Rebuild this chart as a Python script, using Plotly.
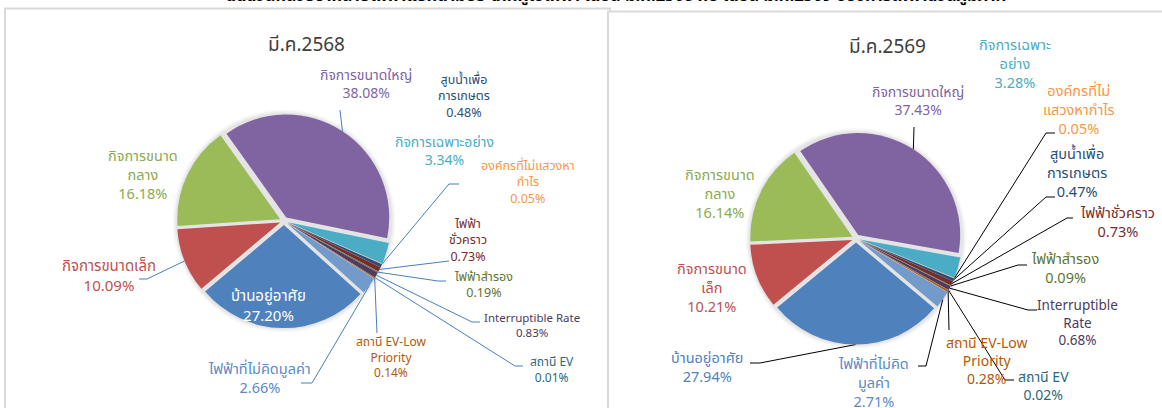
import numpy as np
import plotly.graph_objects as go

W, H = 1162, 408

# ---------------- data ----------------
categories = ["บ้านอยู่อาศัย", "กิจการขนาดเล็ก", "กิจการขนาดกลาง", "กิจการขนาดใหญ่",
              "กิจการเฉพาะอย่าง", "องค์กรที่ไม่แสวงหากำไร", "สูบน้ำเพื่อการเกษตร",
              "ไฟฟ้าชั่วคราว", "ไฟฟ้าสำรอง", "Interruptible Rate", "สถานี EV",
              "สถานี EV-Low Priority", "ไฟฟ้าที่ไม่คิดมูลค่า"]
values_2568 = [27.20, 10.09, 16.18, 38.08, 3.34, 0.05, 0.48, 0.73, 0.19, 0.83, 0.01, 0.14, 2.66]
values_2569 = [27.94, 10.21, 16.14, 37.43, 3.28, 0.05, 0.47, 0.73, 0.09, 0.68, 0.02, 0.28, 2.71]
pie_titles = ["มี.ค.2568", "มี.ค.2569"]
main_title = "สัดส่วนหน่วยจำหน่ายไฟฟ้าแยกตามประเภทผู้ใช้ไฟฟ้า เดือน มี.ค.2568 กับ เดือน มี.ค.2569 ของการไฟฟ้าส่วนภูมิภาค"

# wrapped label lines (text only)
lines_2568 = [["บ้านอยู่อาศัย"], ["กิจการขนาดเล็ก"], ["กิจการขนาด", "กลาง"], ["กิจการขนาดใหญ่"],
              ["กิจการเฉพาะอย่าง"], ["องค์กรที่ไม่แสวงหา", "กำไร"], ["สูบน้ำเพื่อ", "การเกษตร"],
              ["ไฟฟ้า", "ชั่วคราว"], ["ไฟฟ้าสำรอง"], ["Interruptible Rate"], ["สถานี EV"],
              ["สถานี EV-Low", "Priority"], ["ไฟฟ้าที่ไม่คิดมูลค่า"]]
lines_2569 = [["บ้านอยู่อาศัย"], ["กิจการขนาด", "เล็ก"], ["กิจการขนาด", "กลาง"], ["กิจการขนาดใหญ่"],
              ["กิจการเฉพาะ", "อย่าง"], ["องค์กรที่ไม่", "แสวงหากำไร"], ["สูบน้ำเพื่อ", "การเกษตร"],
              ["ไฟฟ้าชั่วคราว"], ["ไฟฟ้าสำรอง"], ["Interruptible", "Rate"], ["สถานี EV"],
              ["สถานี EV-Low", "Priority"], ["ไฟฟ้าที่ไม่คิด", "มูลค่า"]]

# ---------------- styles ----------------
slice_colors = ["#4F81BD", "#C0504D", "#9BBB59", "#8064A2", "#4BACC6", "#F79646",
                "#2C4D75", "#772C2A", "#5F7530", "#4D3B62", "#276A7C", "#B65708", "#729ACA"]
text_colors = ["#4F81BD", "#C0504D", "#8AAA4E", "#8064A2", "#4BACC6", "#F79646",
               "#2C4D75", "#772C2A", "#5F7530", "#4D3B62", "#276A7C", "#B65708", "#5A8AC6"]
FONT = "Tahoma, 'Noto Sans Thai', 'Leelawadee UI', 'Noto Sans', sans-serif"

PULL = 0.04
# pie geometry (pixel layout)
pies = [
    dict(values=values_2568, lines=lines_2568, cx=284, cy=221, r=103, rot=132,
         title=pie_titles[0], tx=306, ty=45, leader="#4A7EBB",
         # label layout: (center x, first line y, line spacing, font size, leader anchor, elbow)
         lab=[(268, 297, 18, 15, None, None),
              (109, 267, 18, 15, (139, 279), (147, 279)),
              (143, 157, 19, 14.5, None, None),
              (366, 75, 18, 14, (340, 110), None),
              (444, 142, 18, 14, None, None),
              (528, 167, 16, 12.5, (459, 184), (449, 184)),
              (464, 80, 16.5, 12.5, None, None),
              (468, 224, 16.5, 12.5, (449, 261), (441, 262)),
              (483, 277, 16, 12.5, (446, 281), (438, 281)),
              (532, 318, 15.5, 11.5, (480, 322), (472, 322)),
              (552, 362, 16, 12, (523, 366), (515, 366)),
              (391, 341, 16, 12, (377, 333), None),
              (259, 370, 18, 14.5, (301, 383), (312, 383))]),
    dict(values=values_2569, lines=lines_2569, cx=856, cy=238.5, r=102, rot=130,
         title=pie_titles[1], tx=887, ty=47, leader="#000000",
         lab=[(707, 359, 18, 14.5, (750, 363), (760, 363)),
              (712, 271, 18, 14.5, None, None),
              (720, 176, 18.5, 14.5, None, None),
              (918, 92, 18, 14, (914, 127), None),
              (1015, 46, 18.5, 14.5, None, None),
              (1079, 92, 18.5, 14.5, (1055, 133), (1046, 133)),
              (1077, 156, 18, 14.5, (1055, 197), (1046, 197)),
              (1117, 215, 17, 14.5, (1073, 218), (1067, 218)),
              (1065, 260, 18, 14.5, (1027, 265), (1018, 265)),
              (1077, 305, 18.5, 13.5, (1037, 310), (1028, 310)),
              (1043, 377, 18, 14, (1014, 380), (1005, 380)),
              (987, 343, 18.5, 14, (949, 330), None),
              (873, 365, 18.5, 14.5, (918, 366), (926, 366))]),
]

fig = go.Figure()
shapes = []
annotations = []

# panel frames
shapes.append(dict(type="rect", xref="x", yref="y", x0=5, x1=610, y0=8.5, y1=420,
                   line=dict(color="#D9D9D9", width=2), fillcolor="white", layer="below"))
shapes.append(dict(type="rect", xref="x", yref="y", x0=608, x1=1175, y0=11.5, y1=420,
                   line=dict(color="#D9D9D9", width=2), fillcolor="white", layer="below"))

for k, p in enumerate(pies):
    vals = np.array(p["values"], dtype=float)
    r, cx, cy = p["r"], p["cx"], p["cy"]
    s = 2 * r * (1 + PULL)
    dom_x = [(cx - s / 2) / W, (cx + s / 2) / W]
    dom_y = [1 - (cy + s / 2) / H, 1 - (cy - s / 2) / H]
    R = r * (1 + PULL)
    # soft shadow / gap colour
    for extra, col in [(4.5, "rgba(0,0,0,0.025)"), (3, "rgba(0,0,0,0.035)"),
                       (1.5, "rgba(0,0,0,0.045)"), (0, "#E4E4E4")]:
        shapes.append(dict(type="circle", xref="x", yref="y", x0=cx - R - extra, x1=cx + R + extra,
                           y0=cy - R - extra, y1=cy + R + extra, line=dict(width=0),
                           fillcolor=col, layer="below"))
    fig.add_trace(go.Pie(labels=categories, values=vals, sort=False, direction="clockwise",
                         rotation=p["rot"], pull=[PULL] * len(vals), textinfo="none",
                         hoverinfo="label+percent", showlegend=False,
                         marker=dict(colors=slice_colors, line=dict(width=0)),
                         domain=dict(x=dom_x, y=dom_y)))
    # leader lines from slice mid angles
    total = vals.sum()
    cum = np.cumsum(vals) - vals / 2
    mid = np.deg2rad(p["rot"] + 360 * cum / total)
    lx, ly = [], []
    for i, lab in enumerate(p["lab"]):
        x0, y0, dy, fs, anchor, elbow = lab
        if anchor is not None:
            ex = cx + R * np.sin(mid[i])
            ey = cy - R * np.cos(mid[i])
            pts = [anchor] + ([elbow] if elbow else []) + [(ex, ey)]
            lx += [q[0] for q in pts] + [None]
            ly += [q[1] for q in pts] + [None]
        txt_lines = p["lines"][i] + [f"{vals[i]:.2f}%"]
        col = "white" if (k == 0 and i == 0) else text_colors[i]
        yc = y0 + (len(txt_lines) - 1) * dy / 2
        annotations.append(dict(x=x0, y=yc, xref="x", yref="y", text="<br>".join(txt_lines),
                                showarrow=False, xanchor="center", yanchor="middle",
                                align="center", borderpad=0,
                                font=dict(family=FONT, size=fs, color=col)))
    fig.add_trace(go.Scatter(x=lx, y=ly, mode="lines", line=dict(color=p["leader"], width=1),
                             hoverinfo="skip", showlegend=False))
    annotations.append(dict(x=p["tx"], y=p["ty"], xref="x", yref="y", text=p["title"],
                            showarrow=False, xanchor="center", yanchor="middle",
                            font=dict(family=FONT, size=19, color="#404040")))

annotations.append(dict(x=616, y=10.5, xref="x", yref="y", text="<b>" + main_title + "</b>",
                        showarrow=False, xanchor="center", yanchor="bottom",
                        font=dict(family=FONT, size=16.5, color="#000000")))

fig.update_layout(
    width=W, height=H, margin=dict(l=0, r=0, t=0, b=0),
    paper_bgcolor="white", plot_bgcolor="white",
    xaxis=dict(range=[0, W], visible=False, fixedrange=True),
    yaxis=dict(range=[H, 0], visible=False, fixedrange=True),
    shapes=shapes, annotations=annotations, showlegend=False,
)

fig.write_html("out.html", config={"displayModeBar": False},
               post_script="document.body.style.margin='0';document.body.style.overflow='hidden';")
